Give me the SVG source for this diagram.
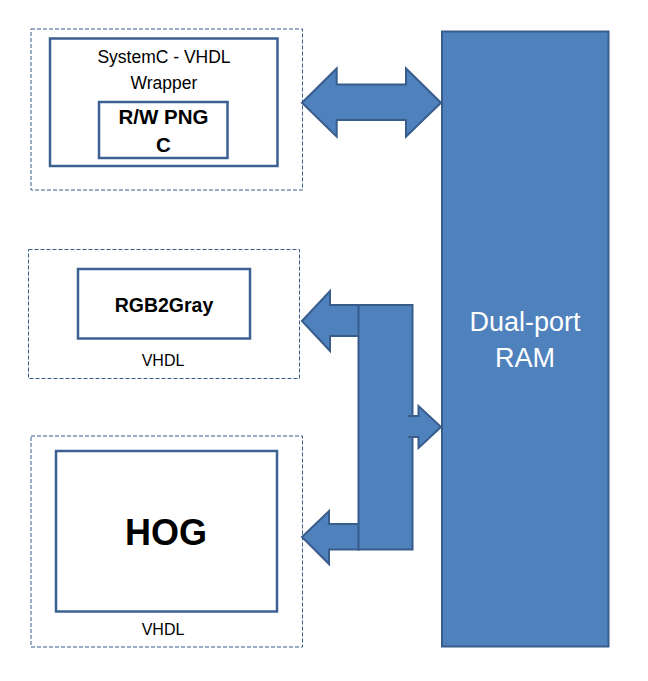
<svg xmlns="http://www.w3.org/2000/svg" width="648" height="681" viewBox="0 0 648 681">
  <style>
    .group { fill: none; stroke: #385D8A; stroke-width: 1; stroke-dasharray: 4 2; }
    .block { fill: #FFFFFF; stroke: #3C6092; stroke-width: 2.5; }
    .blue { fill: #4F81BD; stroke: #385D8A; stroke-width: 2; stroke-linejoin: miter; }
    .lbl { font-family: "Liberation Sans", Arial, sans-serif; fill: #000000; text-anchor: middle; }
    .b { font-weight: bold; }
    .ram { font-family: "Liberation Sans", Arial, sans-serif; fill: #FFFFFF; text-anchor: middle; font-size: 27px; }
  </style>
  <rect width="648" height="681" fill="#FFFFFF"/>

  <!-- SystemC wrapper with PNG reader -->
  <g id="wrapper">
    <rect class="group" x="31" y="29" width="271.5" height="161"/>
    <rect class="block" x="50" y="38.5" width="227.5" height="127.5"/>
    <text class="lbl" x="164" y="63" font-size="17.5">SystemC - VHDL</text>
    <text class="lbl" x="164" y="89" font-size="17.5">Wrapper</text>
  </g>
  <g id="rw-png">
    <rect class="block" x="99" y="102" width="128.5" height="56"/>
    <text class="lbl b" x="163.5" y="123.5" font-size="20.5">R/W PNG</text>
    <text class="lbl b" x="163.5" y="152" font-size="20.5">C</text>
  </g>

  <!-- RGB2Gray module -->
  <g id="rgb2gray">
    <rect class="group" x="28.5" y="249.5" width="271" height="129"/>
    <rect class="block" x="78" y="269" width="172" height="69.5"/>
    <text class="lbl b" x="164" y="311.5" font-size="19.5">RGB2Gray</text>
    <text class="lbl" x="163" y="366" font-size="16">VHDL</text>
  </g>

  <!-- HOG module -->
  <g id="hog">
    <rect class="group" x="31" y="436" width="271.5" height="211"/>
    <rect class="block" x="56" y="451" width="221" height="160.5"/>
    <text class="lbl b" x="166" y="545" font-size="36">HOG</text>
    <text class="lbl" x="163" y="635" font-size="16">VHDL</text>
  </g>

  <!-- Dual-port RAM -->
  <g id="ram">
    <rect class="blue" x="442" y="31.5" width="166.5" height="615" stroke-width="2.5"/>
    <text class="ram" x="525" y="331">Dual-port</text>
    <text class="ram" x="525" y="367">RAM</text>
  </g>

  <!-- Data paths -->
  <g id="connectors">
    <path class="blue" d="M302,102.7 L336.7,68.5 L336.7,84.5 L406,84.5 L406,68.5 L441,102.7 L406,136.7 L406,120 L336.7,120 L336.7,136.7 Z"/>
    <path class="blue" d="M302,321 L330,291 L330,305 L359,305 L359,336 L330,336 L330,351 Z"/>
    <path class="blue" d="M302,537 L329,511 L329,524 L359,524 L359,549.5 L329,549.5 L329,564 Z"/>
    <rect class="blue" x="358.5" y="305" width="54" height="244.5"/>
    <path class="blue" d="M408,416 L418.5,416 L418.5,406 L441,427 L418.5,448 L418.5,437 L408,437" />
    <rect x="408" y="417" width="6" height="19" fill="#4F81BD"/>
  </g>
</svg>
